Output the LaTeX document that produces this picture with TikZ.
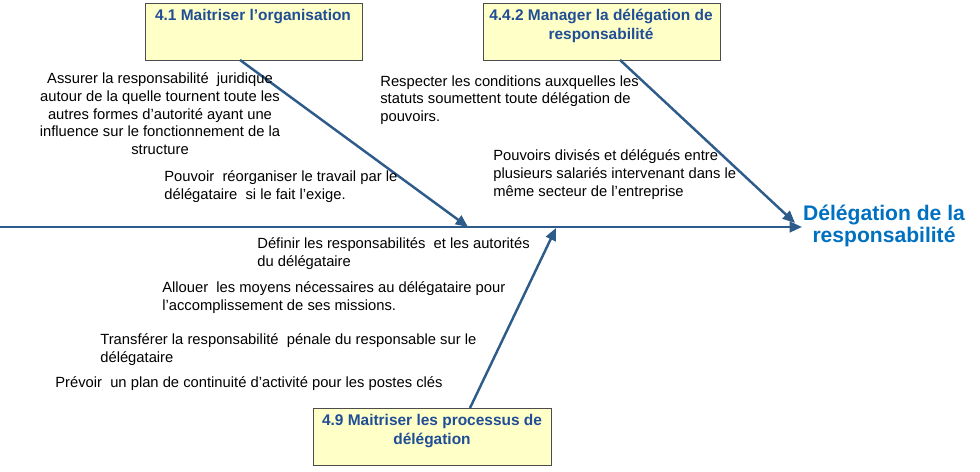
\documentclass[tikz,border=0pt]{standalone}
\usepackage{fontspec}
\setmainfont{Liberation Sans}
\usetikzlibrary{arrows.meta, positioning, calc}
\definecolor{bonecol}{HTML}{2E5C8A}
\definecolor{boxfill}{HTML}{FFFFC8}
\definecolor{titlecol}{HTML}{1F4E96}
\definecolor{headcol}{HTML}{0070C0}

\begin{document}
\begin{tikzpicture}[x=0.02cm, y=-0.02cm,
cause box/.style = {draw=black!70, fill=boxfill, minimum width=217*0.02cm, minimum height=57*0.02cm, anchor=north west, inner sep=0pt},
box title/.style = {anchor=north, font=\fontsize{8.8}{10.5}\selectfont\bfseries, text=titlecol, align=center, inner sep=0pt},
cause text/.style = {anchor=north west, font=\fontsize{8.4}{10.2}\selectfont, align=left, inner sep=0pt},
bone/.style = {draw=bonecol, line width=1.4pt, -{Triangle[length=7pt, width=6pt]}}
]
\useasboundingbox (0,0) rectangle (980,472);

% boxes
\node (org) at (145,3) [cause box] {};
\node (deleg) at (483,3) [cause box, minimum width=237*0.02cm] {};
\node (proc) at (313,408) [cause box, minimum width=238*0.02cm] {};
\node (orgt) at (253,9) [box title] {4.1 Maitriser l’organisation};
\node (delegt) at (601,9) [box title] {4.4.2 Manager la délégation de\\responsabilité};
\node (proct) at (432,414) [box title] {4.9 Maitriser les processus de\\délégation};

% head
\node (head) at (884,226) [font=\fontsize{12}{12.5}\selectfont\bfseries, text=headcol, align=center, inner sep=0pt] {Délégation de la\\responsabilité};

% spine and bones
\coordinate (tail) at (0,227);
\coordinate (tip) at (802,227);
\coordinate (b1s) at (240,60);
\coordinate (b1e) at (468,227);
\coordinate (b2s) at (620,60);
\coordinate (b2e) at (795,223);
\coordinate (b3s) at (470,408);
\coordinate (b3e) at (556,228);
\draw[bone] (tail) -- (tip);
\draw[bone] (b1s) -- (b1e);
\draw[bone] (b2s) -- (b2e);
\draw[bone] (b3s) -- (b3e);

% causes
\node (c1) at (160,72) [cause text, anchor=north, align=center] {Assurer la responsabilité\ \ juridique\\autour de la quelle tournent toute les\\autres formes d’autorité ayant une\\influence sur le fonctionnement de la\\structure};
\node (c2) at (164,170) [cause text] {Pouvoir\ \ réorganiser le travail par le\\délégataire\ \ si le fait l’exige.};
\node (c3) at (380,75) [cause text] {Respecter les conditions auxquelles les\\statuts soumettent toute délégation de\\pouvoirs.};
\node (c4) at (493,149) [cause text] {Pouvoirs divisés et délégués entre\\plusieurs salariés intervenant dans le\\même secteur de l’entreprise};
\node (c5) at (257,237) [cause text] {Définir les responsabilités\ \ et les autorités\\du délégataire};
\node (c6) at (162,281) [cause text] {Allouer\ \ les moyens nécessaires au délégataire pour\\l’accomplissement de ses missions.};
\node (c7) at (100,333) [cause text] {Transférer la responsabilité\ \ pénale du responsable sur le\\délégataire};
\node (c8) at (55,376) [cause text] {Prévoir\ \ un plan de continuité d’activité pour les postes clés};
\end{tikzpicture}
\end{document}
